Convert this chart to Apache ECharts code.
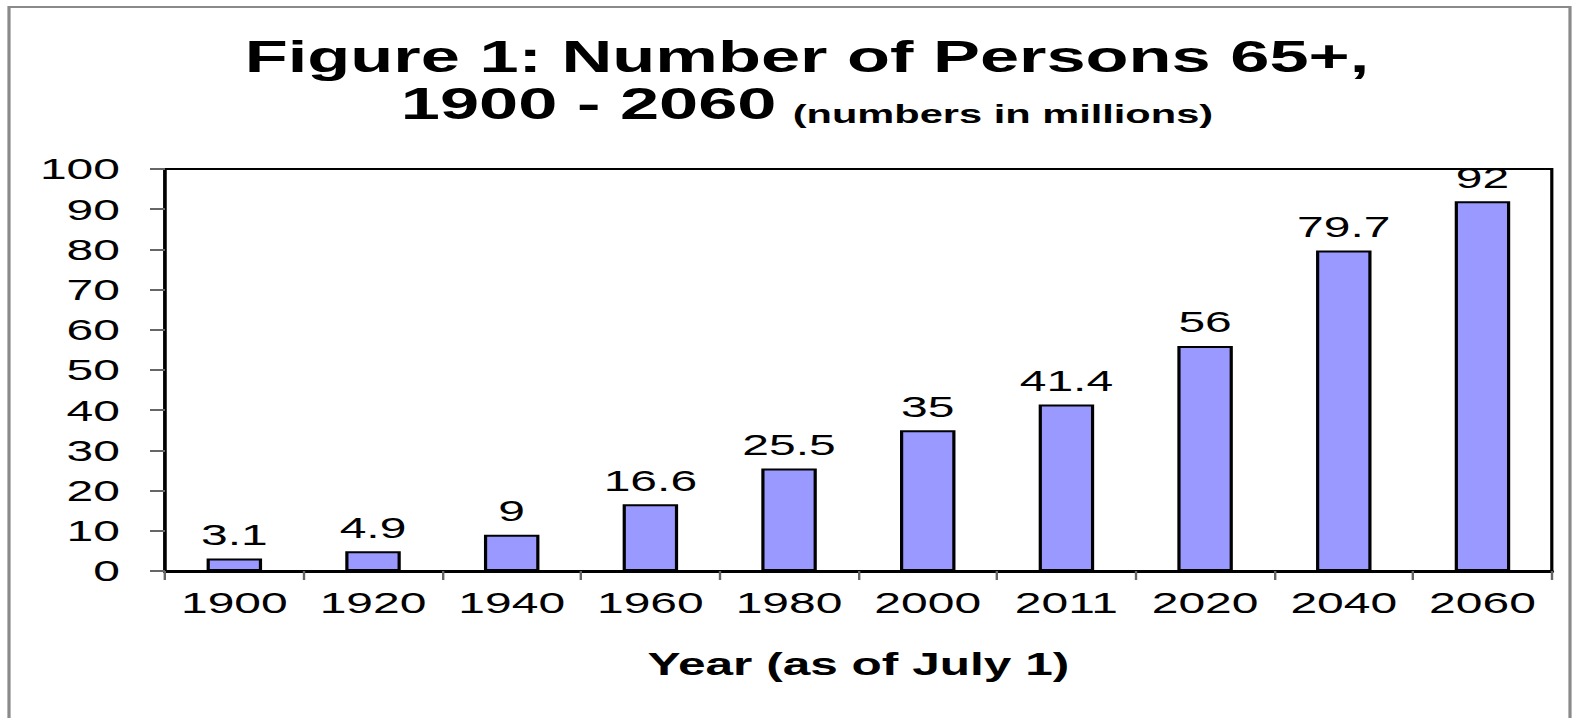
<!DOCTYPE html>
<html>
<head>
<meta charset="utf-8">
<script src="https://cdn.jsdelivr.net/npm/echarts@6/dist/echarts.min.js"></script>
<style>
html,body{margin:0;padding:0;background:#fff;overflow:hidden;}
#wrap{width:1572px;height:718px;overflow:hidden;}
#c{width:982.5px;height:718px;transform:scaleX(1.6);transform-origin:0 0;}
</style>
</head>
<body>
<div id="wrap"><div id="c"></div></div>
<script>
const categories = ['1900','1920','1940','1960','1980','2000','2011','2020','2040','2060'];
const values = [3.1, 4.9, 9, 16.6, 25.5, 35, 41.4, 56, 79.7, 92];
const yTicks = [0, 10, 20, 30, 40, 50, 60, 70, 80, 90, 100];

const SX = 1.6; // horizontal stretch of the original figure
const chart = echarts.init(document.getElementById('c'), null, { renderer: 'svg' });
const font = 'Liberation Sans, Arial, sans-serif';
chart.setOption({
  backgroundColor: '#fff',
  animation: false,
  title: {
    text: '{a|Figure 1: Number of Persons 65+,}\n{a|1900 - 2060}  {b|(numbers in millions)}',
    left: 807 / SX,
    textAlign: 'center',
    top: 33,
    padding: 0,
    textStyle: {
      rich: {
        a: { fontFamily: font, fontWeight: 'bold', fontSize: 44, color: '#000', lineHeight: 47 },
        b: { fontFamily: font, fontWeight: 'bold', fontSize: 26, color: '#000', lineHeight: 34, verticalAlign: 'bottom' }
      }
    }
  },
  graphic: [{
    type: 'rect',
    shape: { x: 9 / SX, y: 7, width: 1561 / SX, height: 730 },
    style: { fill: 'none', stroke: '#8a8a8a', lineWidth: 2 },
    silent: true
  }],
  grid: {
    left: 165 / SX, right: 21 / SX, top: 169, bottom: 147,
    show: true, borderColor: '#000', borderWidth: 2, backgroundColor: 'transparent'
  },
  xAxis: {
    type: 'category',
    data: categories,
    name: 'Year (as of July 1)',
    nameLocation: 'middle',
    nameGap: 78,
    nameTextStyle: { fontFamily: font, fontWeight: 'bold', fontSize: 31, color: '#000' },
    axisLine: { lineStyle: { color: '#000', width: 3 } },
    axisTick: { show: true, length: 9, lineStyle: { color: '#666', width: 1.5 } },
    axisLabel: { interval: 0, fontFamily: font, fontSize: 30, color: '#000', margin: 17 }
  },
  yAxis: {
    type: 'value',
    min: 0, max: 100, interval: 10,
    splitLine: { show: false },
    axisLine: { show: true, lineStyle: { color: '#000', width: 2 } },
    axisTick: { show: true, length: 15 / SX, lineStyle: { color: '#666', width: 2 } },
    axisLabel: {
      fontFamily: font, fontSize: 30, color: '#000', margin: 45 / SX,
      formatter: v => yTicks.includes(v) ? String(v) : ''
    }
  },
  series: [{
    type: 'bar',
    data: values,
    barWidth: '40%',
    itemStyle: { color: '#9999FF', borderColor: '#000', borderWidth: 2 },
    label: {
      show: true, position: 'top', distance: 9,
      fontFamily: font, fontSize: 30, color: '#000'
    }
  }]
});
</script>
</body>
</html>
